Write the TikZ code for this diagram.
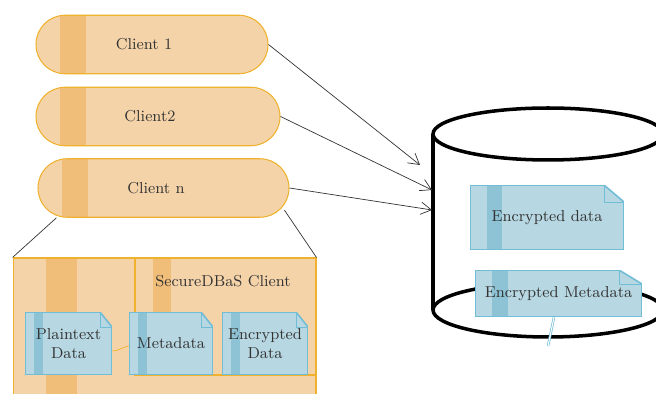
\documentclass[tikz,border=0pt]{standalone}
\usepackage{tikz}
\usetikzlibrary{arrows.meta, positioning}
\definecolor{clientFill}{HTML}{F5D3A9}
\definecolor{clientStripe}{HTML}{F1BE7A}
\definecolor{clientBorder}{HTML}{EFB22E}
\definecolor{docFill}{HTML}{B7D7E2}
\definecolor{docStripe}{HTML}{8EC3D5}
\definecolor{docBorder}{HTML}{72BDD6}
\definecolor{textGrey}{HTML}{333333}

\begin{document}
\begin{tikzpicture} [
    x=0.02cm, y=-0.02cm,
    client/.style={rectangle, rounded corners=0.58cm, fill=clientFill, draw=clientBorder, line width=0.6pt, minimum height=1.17cm, font=\small, text=textGrey,
        path picture={\fill[clientStripe, sharp corners] ([xshift=0.48cm]path picture bounding box.south west) rectangle ([xshift=1cm]path picture bounding box.north west);}},
    area/.style={rectangle, fill=clientFill, draw=clientBorder, line width=0.6pt, inner sep=0pt},
    % fold x, fold y, stripe from, stripe to
    doc/.style n args={4}{rectangle, align=center, font=\small, text=textGrey, inner sep=0pt,
        path picture={
        \fill[docFill] (path picture bounding box.south west) -- (path picture bounding box.north west) -- ([xshift=-#1]path picture bounding box.north east) -- ([yshift=-#2]path picture bounding box.north east) -- (path picture bounding box.south east) -- cycle;
        \fill[docStripe] ([xshift=#3]path picture bounding box.south west) rectangle ([xshift=#4]path picture bounding box.north west);
        \draw[docBorder, line width=0.9pt] (path picture bounding box.south west) -- (path picture bounding box.north west) -- ([xshift=-#1]path picture bounding box.north east) -- ([yshift=-#2]path picture bounding box.north east) -- (path picture bounding box.south east) -- cycle;
        \draw[docBorder, thin] ([xshift=-#1]path picture bounding box.north east) |- ([yshift=-#2]path picture bounding box.north east);}},
    arrow/.style={thin, color=textGrey, -{Straight Barb[length=6pt, width=7pt]}},
    zoomLine/.style={thin, color=textGrey},
    cyl/.style={line width=2pt, black}
]
    \path[use as bounding box] (0,0) rectangle (656,394);
    \clip (0,0) rectangle (656,394);

    % clients
    \node[client, minimum width=4.64cm] (client1) at (152,44.5) {Client 1\hspace*{0.32cm}};
    \node[client, minimum width=4.88cm] (client2) at (158,116.5) {Client2\hspace*{0.32cm}};
    \node[client, minimum width=5.02cm] (clientn) at (163.5,188) {Client n\hspace*{0.3cm}};

    % SecureDBaS client
    \node[area, minimum width=6.06cm, minimum height=3.04cm,
        path picture={\fill[clientStripe] ([xshift=0.66cm]path picture bounding box.south west) rectangle ([xshift=1.28cm]path picture bounding box.north west);}] (secureBox) at (164.5,334) {};
    \node[area, minimum width=3.62cm, minimum height=2.34cm,
        path picture={\fill[clientStripe] ([xshift=0.36cm]path picture bounding box.south west) rectangle ([xshift=0.72cm]path picture bounding box.north west);}] (innerBox) at (225.5,316.5) {};
    \node[font=\small, text=textGrey] (secureLabel) at (223,281) {SecureDBaS Client};

    \draw[zoomLine] ([xshift=0.38cm]clientn.south west) -- (secureBox.north west);
    \draw[zoomLine] ([xshift=-0.1cm, yshift=0.15cm]clientn.south east) -- (secureBox.north east);

    \node[doc={0.24cm}{0.3cm}{0.18cm}{0.36cm}, minimum width=1.74cm, minimum height=1.26cm] (plain) at (68.5,343.5) {Plaintext\\Data};
    \node[doc={0.24cm}{0.3cm}{0.18cm}{0.36cm}, minimum width=1.68cm, minimum height=1.26cm] (meta) at (171,343.5) {Metadata};
    \node[doc={0.24cm}{0.3cm}{0.18cm}{0.36cm}, minimum width=1.72cm, minimum height=1.26cm] (encData) at (265,343.5) {Encrypted\\Data};
    \draw[clientBorder, thin] ([yshift=-0.15cm]plain.east) to[out=0, in=190] ([yshift=-0.05cm]meta.west);

    % database
    \draw[cyl] (548,134) ellipse [x radius=2.3cm, y radius=0.52cm];
    \draw[cyl] (548,310) ellipse [x radius=2.3cm, y radius=0.54cm];
    \draw[cyl] (433,134) -- (433,310);
    \draw[cyl] (663,134) -- (663,310);

    \coordinate (dbIn1) at (420,165);
    \coordinate (dbIn2) at (432,190);
    \coordinate (dbInN) at (432,210);
    \draw[arrow] (client1.east) -- (dbIn1);
    \draw[arrow] (client2.east) -- (dbIn2);
    \draw[arrow] (clientn.east) -- (dbInN);

    \node[doc={0.4cm}{0.34cm}{0.34cm}{0.64cm}, minimum width=3.08cm, minimum height=1.3cm] (encDb) at (547,217.5) {Encrypted data};
    \node[doc={0.46cm}{0.28cm}{0.34cm}{0.66cm}, minimum width=3.34cm, minimum height=0.94cm] (encMeta) at (558.5,293.5) {Encrypted Metadata};

    \coordinate (metaTail) at (548,346);
    \draw[docBorder, double=white, double distance=0.6pt] ([xshift=-0.09cm]encMeta.south) -- (metaTail);

\end{tikzpicture}
\end{document}
